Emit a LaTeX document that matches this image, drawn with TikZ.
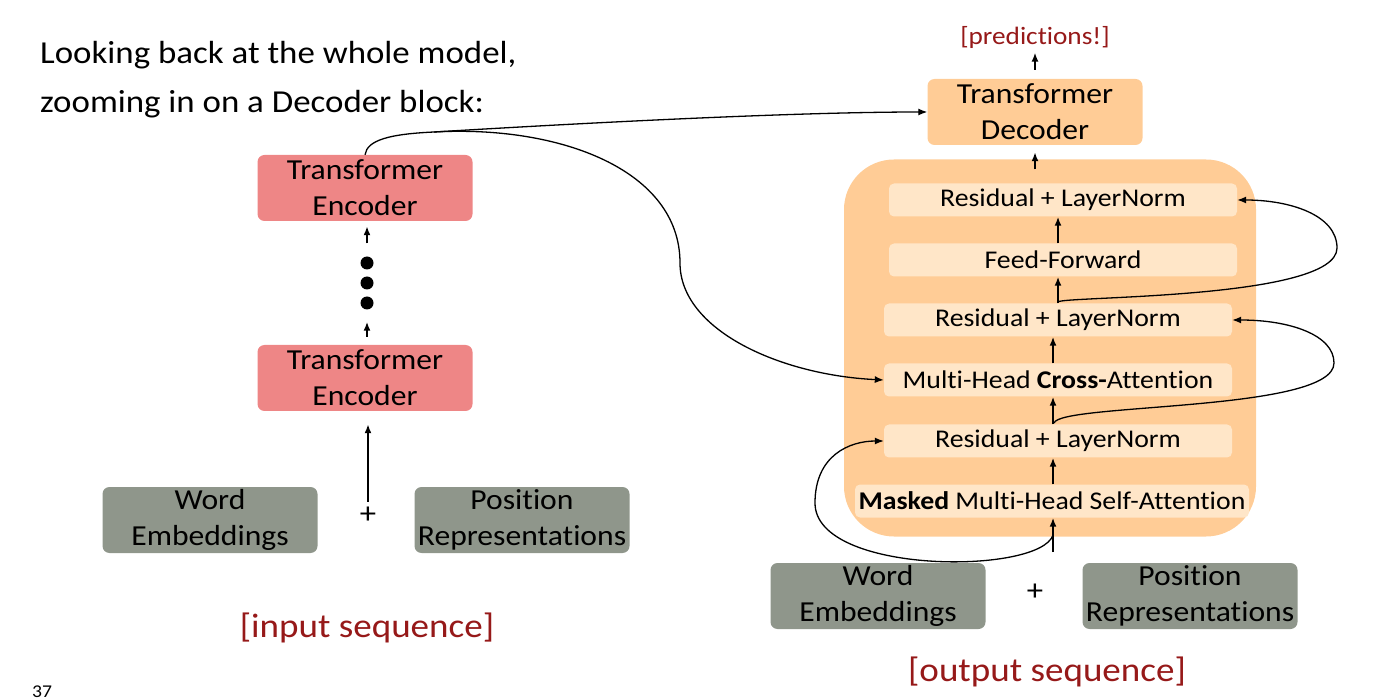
\documentclass[tikz,border=0pt]{standalone}
\usepackage{fontspec}
\setmainfont{Carlito}[FakeStretch=1.09, Ligatures=NoCommon]
\usetikzlibrary{arrows.meta}

\definecolor{encred}{RGB}{238,134,134}
\definecolor{embgrey}{RGB}{143,150,139}
\definecolor{decorange}{RGB}{255,204,150}
\definecolor{sublight}{RGB}{255,230,200}
\definecolor{seqred}{RGB}{150,25,25}

\tikzset{
	bigbox/.style={rounded corners=7pt, minimum width=215pt, minimum height=66pt, inner sep=0pt, align=center, font=\fontsize{29}{36}\selectfont},
	encbox/.style={bigbox, fill=encred},
	embbox/.style={bigbox, fill=embgrey},
	decbox/.style={bigbox, fill=decorange},
	subbox/.style={fill=sublight, rounded corners=5pt, minimum height=33pt, inner sep=0pt, font=\fontsize{25.5}{30}\selectfont},
	seqlabel/.style={text=seqred, font=\fontsize{34}{40}\selectfont},
	plussign/.style={inner sep=0pt, font=\fontsize{30}{36}\selectfont},
	dot/.style={circle, fill=black, minimum size=13pt, inner sep=0pt},
	arr/.style={-{Latex[length=9pt,width=7pt]}, line width=1.8pt},
	curvearr/.style={-{Latex[length=9pt,width=7pt]}, line width=1.3pt},
}

\begin{document}
\begin{tikzpicture}[x=1pt, y=-1pt]
	\useasboundingbox (0,0) rectangle (1390,700);

	\node[anchor=base west, inner sep=0pt, font=\fontsize{32}{38}\selectfont] (title1) at (40,64) {Looking back at the whole model,};
	\node[anchor=base west, inner sep=0pt, font=\fontsize{32}{38}\selectfont] (title2) at (40,113) {zooming in on a Decoder block:};
	\node[anchor=base west, inner sep=0pt, font=\fontsize{18}{20}\selectfont] (page) at (32,697) {37};

	% encoder stack
	\node[encbox] (enc2) at (365,188) {Transformer\\Encoder};
	\node[dot] (dot1) at (367,263) {};
	\node[dot] (dot2) at (367,283) {};
	\node[dot] (dot3) at (367,303) {};
	\node[encbox] (enc1) at (365,378) {Transformer\\Encoder};
	\node[embbox] (we1) at (210,520) {Word\\Embeddings};
	\node[plussign] (plus1) at (368,515) {+};
	\node[embbox] (pr1) at (522,520) {Position\\Representations};
	\node[seqlabel] (inseq) at (367,628) {[input sequence]};

	\draw[arr, shorten <=13pt, shorten >=5pt] (dot1.north) -- (dot1.north |- enc2.south);
	\draw[arr, shorten <=8pt, shorten >=12pt] (enc1.north -| dot3) -- (dot3.south);
	\draw[arr, shorten <=5pt, shorten >=13pt] (plus1.north) -- (plus1.north |- enc1.south);

	% decoder
	\node[seqlabel, font=\fontsize{25}{30}\selectfont] (pred) at (1035,37) {[predictions!]};
	\node[decbox] (dec) at (1035,112) {Transformer\\Decoder};
	\node[fill=decorange, rounded corners=50pt, minimum width=412pt, minimum height=377pt] (blk) at (1050,348) {};

	\node[subbox, minimum width=348pt] (rl3) at (1063,200) {Residual + LayerNorm};
	\node[subbox, minimum width=348pt] (ff) at (1063,260) {Feed-Forward};
	\node[subbox, minimum width=348pt] (rl2) at (1058,320) {Residual + LayerNorm};
	\node[subbox, minimum width=348pt] (ca) at (1058,380) {Multi-Head \textbf{Cross-}Attention};
	\node[subbox, minimum width=348pt] (rl1) at (1058,441) {Residual + LayerNorm};
	\node[subbox, minimum width=394pt] (msk) at (1052,501) {\textbf{Masked} Multi-Head Self-Attention};

	\node[embbox] (we2) at (878,596) {Word\\Embeddings};
	\node[plussign] (plus2) at (1035,592) {+};
	\node[embbox] (pr2) at (1190,596) {Position\\Representations};
	\node[seqlabel] (outseq) at (1047,672) {[output sequence]};

	\coordinate (colA) at (1053,0);
	\coordinate (colB) at (1058,0);
	\coordinate (tin) at (1053,552);
	\coordinate (res1) at (1053,535);
	\coordinate (res2) at (1054,423);
	\coordinate (res3) at (1058,302);
	\coordinate (split) at (434,132);

	\draw[arr, shorten <=9pt, shorten >=1pt] (dec.north) -- (pred.south);
	\draw[arr, shorten <=14pt, shorten >=7pt] (dec.south |- rl3.north) -- (dec.south);

	\draw[arr] (tin) -- (colA |- msk.south);
	\draw[arr] (colA |- msk.north) -- (colA |- rl1.south);
	\draw[arr] (colA |- rl1.north) -- (colA |- ca.south);
	\draw[arr] (colA |- ca.north) -- (colA |- rl2.south);
	\draw[arr] (colB |- rl2.north) -- (colB |- ff.south);
	\draw[arr] (colB |- ff.north) -- (colB |- rl3.south);

	% residual connections
	\draw[curvearr] (res1) .. controls (1040,575) and (815,575) .. (815,503) .. controls (815,455) and (850,441) .. (rl1.west);
	\draw[curvearr] (res2) .. controls (1060,403) and (1334,412) .. (1334,363) .. controls (1334,335) and (1290,320) .. (rl2.east);
	\draw[curvearr] (res3) .. controls (1060,296) and (1337,300) .. (1337,248) .. controls (1337,215) and (1290,200) .. (rl3.east);

	% encoder output
	\draw[curvearr] (enc2.north) .. controls (367,140) and (390,134) .. (split) .. controls (600,122) and (800,112) .. (dec.west);
	\draw[curvearr] (split) .. controls (560,125) and (680,170) .. (680,263) .. controls (680,330) and (780,375) .. (ca.west);
\end{tikzpicture}
\end{document}
